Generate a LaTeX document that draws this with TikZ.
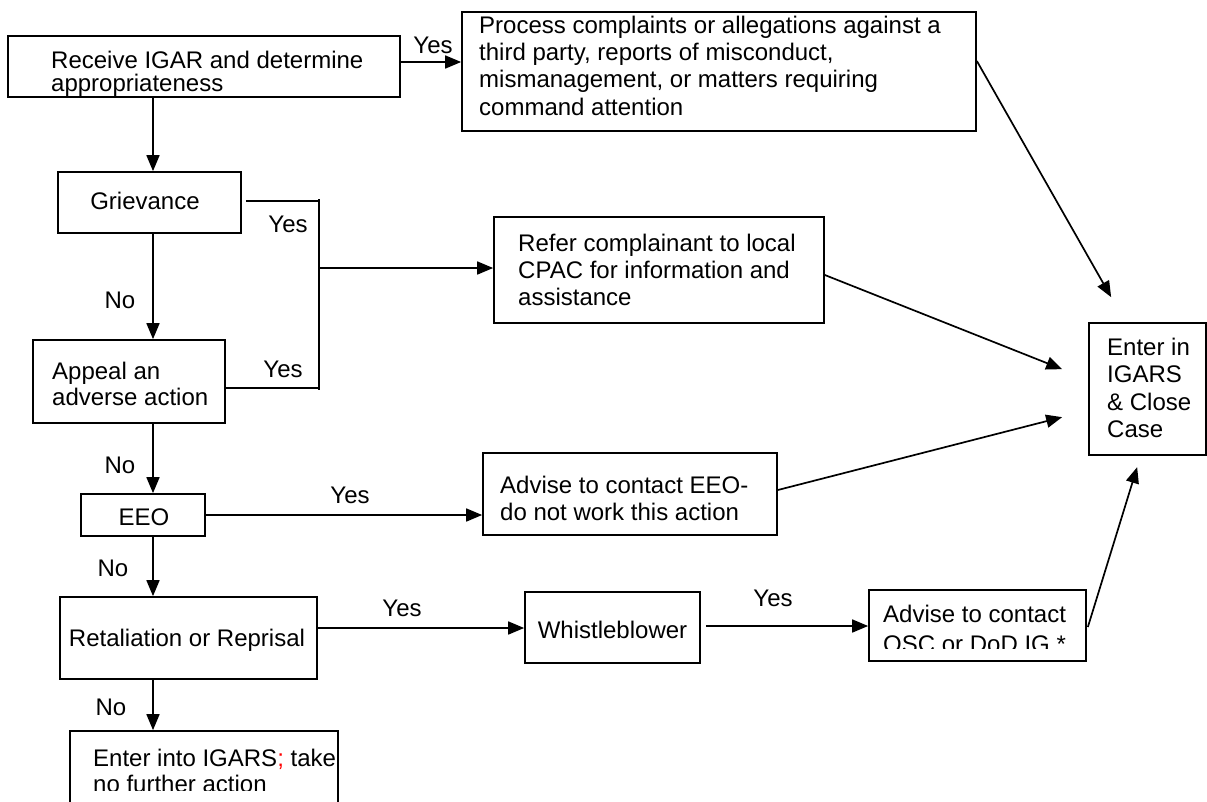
\documentclass[tikz,border=0pt]{standalone}
\usepackage{fontspec}
\setmainfont{Liberation Sans}
\usetikzlibrary{arrows.meta}
\begin{document}
\begin{tikzpicture}[x=1pt,y=-1pt,
  box/.style={draw, line width=1.7pt, rectangle, inner sep=0pt},
  txt/.style={inner sep=0pt, align=left, anchor=north west, font=\fontsize{24}{27.3}\selectfont},
  lbl/.style={inner sep=0pt, anchor=base, font=\fontsize{24}{27.3}\selectfont},
  conn/.style={line width=1.7pt},
  arr/.style={conn, -{Triangle[length=16pt,width=13pt]}}]
\path[use as bounding box] (0,0) rectangle (1207,801);
\clip (0,0) rectangle (1207,801);

% boxes
\node[box, minimum width=392pt, minimum height=61pt] (recv) at (204,66.5) {};
\node[box, minimum width=514pt, minimum height=119pt] (proc) at (719,71.5) {};
\node[box, minimum width=183pt, minimum height=61pt] (griev) at (149.5,202.5) {};
\node[box, minimum width=330pt, minimum height=106pt] (refer) at (659,270) {};
\node[box, minimum width=192pt, minimum height=83pt] (appeal) at (129,381.5) {};
\node[box, minimum width=124pt, minimum height=42pt] (eeo) at (143,515) {};
\node[box, minimum width=294pt, minimum height=82pt] (adveeo) at (630,494) {};
\node[box, minimum width=257pt, minimum height=82pt] (retal) at (188.5,638) {};
\node[box, minimum width=175pt, minimum height=71pt] (whistle) at (612.5,627.5) {};
\node[box, minimum width=217pt, minimum height=71pt] (osc) at (977.5,625.5) {};
\node[box, minimum width=117pt, minimum height=132pt] (enter) at (1147.5,389) {};
\node[box, minimum width=268pt, minimum height=80pt] (final) at (204,771) {};

% texts
\node[txt, font=\fontsize{24}{23}\selectfont] (recvt) at (51,50.5) {Receive IGAR and determine\\appropriateness};
\node[txt] (proct) at (479,15.7) {Process complaints or allegations against a\\third party, reports of misconduct,\\mismanagement, or matters requiring\\command attention};
\node[lbl] (grievt) at (145,209) {Grievance};
\node[txt, font=\fontsize{24}{27}\selectfont] (refert) at (518,233.7) {Refer complainant to local\\CPAC for information and\\assistance};
\node[txt, font=\fontsize{24}{26.5}\selectfont] (appealt) at (52,361.7) {Appeal an\\adverse action};
\node[lbl] (eeot) at (144,525) {EEO};
\node[txt, font=\fontsize{24}{27.5}\selectfont] (adveeot) at (500,475.7) {Advise to contact EEO-\\do not work this action};
\node[lbl] (retalt) at (187,646) {Retaliation or Reprisal};
\node[lbl] (whistlet) at (612.5,638) {Whistleblower};
\begin{scope}
\clip (869,590) rectangle (1086,648);
\node[txt, font=\fontsize{24}{30}\selectfont] (osct) at (883,604.7) {Advise to contact\\OSC or DoD IG *};
\end{scope}
\node[txt, font=\fontsize{24}{27.5}\selectfont] (entert) at (1107,337.7) {Enter in\\IGARS\\\& Close\\Case};
\begin{scope}
\clip (70,731) rectangle (338,790);
\node[txt, font=\fontsize{24}{26}\selectfont] (finalt) at (93,748.7) {Enter into IGARS{\color{red};} take\\no further action};
\end{scope}

% labels
\node[lbl] (y1) at (433,53) {Yes};
\node[lbl] (y2) at (288,232) {Yes};
\node[lbl] (y3) at (283,377) {Yes};
\node[lbl] (n1) at (120,308) {No};
\node[lbl] (n2) at (120,473) {No};
\node[lbl] (y4) at (350,503) {Yes};
\node[lbl] (n3) at (113,576) {No};
\node[lbl] (y5) at (402,616) {Yes};
\node[lbl] (y6) at (773,606) {Yes};
\node[lbl] (n4) at (111,715) {No};

% coordinates
\coordinate (vx) at (153,0);
\coordinate (a1) at ([yshift=4.5pt]recv.east);
\coordinate (p1) at ([yshift=10.5pt]proc.east);
\coordinate (r1) at ([yshift=-5pt]refer.east);
\coordinate (a2) at ([yshift=4pt]adveeo.east);
\coordinate (o1) at ([xshift=1pt,yshift=-1.5pt]osc.east);
\coordinate (e1) at ([xshift=23pt,yshift=25pt]enter.north west);
\coordinate (e2) at ([xshift=-26pt,yshift=-47pt]enter.north west);
\coordinate (e3) at ([xshift=-26pt,yshift=-95pt]enter.north west);
\coordinate (e4) at ([xshift=49pt,yshift=-145pt]enter.north west);
\coordinate (g1) at ([xshift=4pt,yshift=1.5pt]griev.east);
\coordinate (jt) at (319,201);
\coordinate (jm) at (319,268);
\coordinate (jb) at (319,388);
\coordinate (rw) at ([yshift=10pt]retal.east);
\coordinate (wo) at ([xshift=5pt,yshift=1.5pt]whistle.east);

% connectors
\draw[arr] (a1) -- (a1 -| proc.west);
\draw[arr] (p1) -- (e1);
\draw[arr] (recv.south -| vx) -- (griev.north -| vx);
\draw[conn] (g1) -- (jt);
\draw[conn] (appeal.east |- jb) -- (jb);
\draw[conn] ([yshift=2pt]jt) -- ([yshift=-2pt]jb);
\draw[arr] (jm) -- (jm -| refer.west);
\draw[arr] (griev.south -| vx) -- (appeal.north -| vx);
\draw[arr] (appeal.south -| vx) -- (eeo.north -| vx);
\draw[arr] (eeo.east) -- (eeo.east -| adveeo.west);
\draw[arr] (eeo.south -| vx) -- (retal.north -| vx);
\draw[arr] (rw) -- (rw -| whistle.west);
\draw[arr] (wo) -- (wo -| osc.west);
\draw[arr] (retal.south -| vx) -- (final.north -| vx);
\draw[arr] (r1) -- (e2);
\draw[arr] (a2) -- (e3);
\draw[arr] (o1) -- (e4);
\end{tikzpicture}
\end{document}
